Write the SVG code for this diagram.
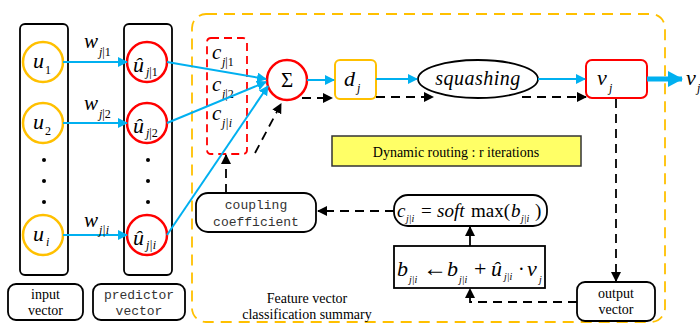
<svg xmlns="http://www.w3.org/2000/svg" width="700" height="324" viewBox="0 0 700 324">
  <defs>
    <style>
      .m { font-family: "Liberation Serif", "DejaVu Serif", serif; font-style: italic; fill: #000; }
      .s { font-family: "Liberation Serif", "DejaVu Serif", serif; font-style: italic; font-size: 12px; fill: #000; }
      .r { font-family: "Liberation Serif", "DejaVu Serif", serif; fill: #000; }
      .mono { font-family: "Liberation Mono", "DejaVu Sans Mono", monospace; font-size: 13px; fill: #333; }
      .blue { stroke: #00b0f0; stroke-width: 2; fill: none; }
      .dash { stroke: #000; stroke-width: 1.8; fill: none; stroke-dasharray: 9 6; }
      .box { fill: #fff; stroke: #000; stroke-width: 1.8; }
    </style>
    <marker id="ab" markerWidth="10" markerHeight="10" refX="9" refY="5" orient="auto" markerUnits="userSpaceOnUse">
      <path d="M0,0 L10,5 L0,10 Z" fill="#00b0f0"/>
    </marker>
    <marker id="abBig" markerWidth="16" markerHeight="16" refX="14" refY="8" orient="auto" markerUnits="userSpaceOnUse">
      <path d="M0,0 L15,8 L0,16 Z" fill="#00b0f0"/>
    </marker>
    <marker id="ak" markerWidth="10" markerHeight="10" refX="9" refY="5" orient="auto" markerUnits="userSpaceOnUse">
      <path d="M0,0 L10,5 L0,10 Z" fill="#000"/>
    </marker>
  </defs>

  <rect width="700" height="324" fill="#fff"/>

  <!-- outer dashed region -->
  <g id="region">
    <rect x="192" y="14" width="473" height="308" rx="14" fill="none" stroke="#ffc000" stroke-width="1.8" stroke-dasharray="11 7"/>
    <text class="r" x="307" y="303" font-size="14" text-anchor="middle">Feature vector</text>
    <text class="r" x="307" y="319" font-size="14" text-anchor="middle">classification summary</text>
  </g>

  <!-- input column -->
  <g id="input-column">
    <rect x="20" y="24" width="48" height="251" rx="5" fill="none" stroke="#000" stroke-width="1.8"/>
    <circle cx="43" cy="62" r="20" fill="#fff" stroke="#ffc000" stroke-width="2.5"/>
    <text class="m" x="33" y="68" font-size="22">u<tspan class="r" x="45" y="74" font-size="12" font-style="normal">1</tspan></text>
    <circle cx="43" cy="123" r="20" fill="#fff" stroke="#ffc000" stroke-width="2.5"/>
    <text class="m" x="33" y="129" font-size="22">u<tspan class="r" x="45" y="135" font-size="12" font-style="normal">2</tspan></text>
    <circle cx="44" cy="160" r="2" fill="#000"/>
    <circle cx="44" cy="181" r="2" fill="#000"/>
    <circle cx="44" cy="202" r="2" fill="#000"/>
    <circle cx="43" cy="235" r="20" fill="#fff" stroke="#ffc000" stroke-width="2.5"/>
    <text class="m" x="33" y="241" font-size="22">u<tspan x="46" y="246" font-size="12">i</tspan></text>
  </g>

  <!-- predictor column -->
  <g id="predictor-column">
    <rect x="124" y="24" width="48" height="251" rx="5" fill="none" stroke="#000" stroke-width="1.8"/>
    <circle cx="147" cy="62" r="20" fill="#fff" stroke="#f00" stroke-width="2.5"/>
    <text class="m" x="133" y="72" font-size="22">û<tspan x="146" y="76" font-size="12">j</tspan><tspan y="76" font-size="12" font-style="normal">|1</tspan></text>
    <circle cx="147" cy="123" r="20" fill="#fff" stroke="#f00" stroke-width="2.5"/>
    <text class="m" x="133" y="133" font-size="22">û<tspan x="146" y="137" font-size="12">j</tspan><tspan y="137" font-size="12" font-style="normal">|2</tspan></text>
    <circle cx="148" cy="160" r="2" fill="#000"/>
    <circle cx="148" cy="181" r="2" fill="#000"/>
    <circle cx="148" cy="202" r="2" fill="#000"/>
    <circle cx="147" cy="235" r="20" fill="#fff" stroke="#f00" stroke-width="2.5"/>
    <text class="m" x="133" y="245" font-size="22">û<tspan x="146" y="249" font-size="12">j|i</tspan></text>
  </g>

  <g id="input-label">
    <rect class="box" x="8" y="284" width="75" height="36" rx="8"/>
    <text class="r" x="45.5" y="299" font-size="14" text-anchor="middle">input</text>
    <text class="r" x="45.5" y="315" font-size="14" text-anchor="middle">vector</text>
  </g>
  <g id="predictor-label">
    <rect class="box" x="93" y="284" width="92" height="36" rx="8"/>
    <text class="mono" x="139" y="299" text-anchor="middle" fill="#666">predictor</text>
    <text class="mono" x="139" y="315" text-anchor="middle" fill="#666">vector</text>
  </g>

  <!-- coupling coefficients -->
  <g id="coefficients">
    <rect x="207" y="38" width="40" height="116" rx="4" fill="none" stroke="#f00" stroke-width="1.8" stroke-dasharray="8 5"/>
    <text class="m" x="212" y="59" font-size="21">c<tspan x="222" y="66" font-size="12">j</tspan><tspan y="66" font-size="12" font-style="normal">|1</tspan></text>
    <text class="m" x="212" y="91" font-size="21">c<tspan x="222" y="98" font-size="12">j</tspan><tspan y="98" font-size="12" font-style="normal">|2</tspan></text>
    <text class="m" x="212" y="120" font-size="21">c<tspan x="222" y="127" font-size="12">j|i</tspan></text>
  </g>

  <g id="sum">
    <circle cx="287" cy="80" r="20" fill="#fff" stroke="#f00" stroke-width="2.5"/>
    <text class="r" x="287" y="87" font-size="21" text-anchor="middle">Σ</text>
  </g>

  <g id="dj">
    <rect x="335" y="60" width="41" height="39" rx="5" fill="#fff" stroke="#ffc000" stroke-width="2"/>
    <text class="m" x="344" y="86" font-size="22">d<tspan x="357" y="92" font-size="12">j</tspan></text>
  </g>

  <g id="squashing">
    <ellipse cx="478" cy="79" rx="60" ry="19" fill="#fff" stroke="#000" stroke-width="1.8"/>
    <text class="m" x="478" y="85" font-size="20" text-anchor="middle" letter-spacing="0.5">squashing</text>
  </g>

  <g id="vj">
    <rect x="586" y="60" width="61" height="38" rx="6" fill="#fff" stroke="#f00" stroke-width="2"/>
    <text class="m" x="597" y="85" font-size="22">v<tspan x="609" y="92" font-size="12">j</tspan></text>
  </g>

  <g id="vj-out">
    <text class="m" x="686" y="85" font-size="22">v<tspan x="697" y="92" font-size="12">j</tspan></text>
  </g>

  <g id="routing">
    <rect x="332" y="136" width="249" height="30" fill="#ffff66" stroke="#333" stroke-width="1.5"/>
    <text class="r" x="456" y="157" font-size="14" text-anchor="middle">Dynamic routing : r iterations</text>
  </g>

  <g id="coupling">
    <rect class="box" x="196" y="193" width="120" height="39" rx="12"/>
    <text class="mono" x="256" y="209" text-anchor="middle">coupling</text>
    <text class="mono" x="256" y="226" text-anchor="middle">coefficient</text>
  </g>

  <g id="softmax">
    <rect class="box" x="394" y="195" width="153" height="31" rx="14"/>
    <text class="m" font-size="19"><tspan x="397" y="217">c</tspan><tspan x="406" y="222" font-size="10">j|i</tspan><tspan x="421" y="217" font-style="normal">=</tspan><tspan x="437" y="217">soft</tspan><tspan x="471" y="217" font-style="normal">max(</tspan><tspan x="511" y="217">b</tspan><tspan x="521" y="222" font-size="10">j|i</tspan><tspan x="535" y="217" font-style="normal">)</tspan></text>
  </g>

  <g id="update">
    <rect class="box" x="394" y="246" width="151" height="42"/>
    <text class="m" font-size="22"><tspan x="397" y="276">b</tspan><tspan x="409" y="283" font-size="10">j|i</tspan><tspan x="423" y="276" font-size="24" font-style="normal">←</tspan><tspan x="447" y="276">b</tspan><tspan x="459" y="283" font-size="10">j|i</tspan><tspan x="474" y="276" font-style="normal">+</tspan><tspan x="491" y="276">û</tspan><tspan x="504" y="280" font-size="10">j|i</tspan><tspan x="518" y="276" font-size="20" font-style="normal">·</tspan><tspan x="527" y="276">v</tspan><tspan x="539" y="283" font-size="10">j</tspan></text>
  </g>

  <g id="output-label">
    <rect class="box" x="577" y="282" width="78" height="39" rx="8"/>
    <text class="r" x="616" y="298" font-size="14" text-anchor="middle">output</text>
    <text class="r" x="616" y="314" font-size="14" text-anchor="middle">vector</text>
  </g>

  <!-- connectors -->
  <g id="connectors">
    <line class="blue" x1="63" y1="62" x2="127" y2="62" marker-end="url(#ab)"/>
    <line class="blue" x1="63" y1="123" x2="127" y2="123" marker-end="url(#ab)"/>
    <line class="blue" x1="63" y1="235" x2="127" y2="235" marker-end="url(#ab)"/>
    <text class="m" x="84" y="48" font-size="21">w<tspan x="99" y="56" font-size="12">j</tspan><tspan y="56" font-size="12" font-style="normal">|1</tspan></text>
    <text class="m" x="84" y="110" font-size="21">w<tspan x="99" y="118" font-size="12">j</tspan><tspan y="118" font-size="12" font-style="normal">|2</tspan></text>
    <text class="m" x="84" y="227" font-size="21">w<tspan x="99" y="234" font-size="12">j|i</tspan></text>

    <line class="blue" x1="167" y1="62" x2="266" y2="79" marker-end="url(#ab)"/>
    <line class="blue" x1="167" y1="123" x2="266" y2="82" marker-end="url(#ab)"/>
    <line class="blue" x1="167" y1="235" x2="268" y2="86" marker-end="url(#ab)"/>

    <line class="blue" x1="307" y1="80" x2="334" y2="80" marker-end="url(#ab)"/>
    <line class="blue" x1="376" y1="79" x2="417" y2="79" marker-end="url(#ab)"/>
    <line class="blue" x1="538" y1="79" x2="585" y2="79" marker-end="url(#ab)"/>
    <line x1="647" y1="79" x2="682" y2="79" stroke="#00b0f0" stroke-width="5" marker-end="url(#abBig)"/>

    <line class="dash" x1="302" y1="98" x2="332" y2="98" marker-end="url(#ak)"/>
    <line class="dash" x1="376" y1="97" x2="433" y2="97" marker-end="url(#ak)"/>
    <line class="dash" x1="522" y1="97" x2="586" y2="97" marker-end="url(#ak)"/>
    <line class="dash" x1="616" y1="99" x2="616" y2="281" marker-end="url(#ak)"/>
    <polyline class="dash" points="577,302 470,302 470,289" marker-end="url(#ak)"/>
    <line x1="470" y1="246" x2="470" y2="227" stroke="#000" stroke-width="1.8" marker-end="url(#ak)"/>
    <line class="dash" x1="394" y1="211" x2="318" y2="211" marker-end="url(#ak)"/>
    <line class="dash" x1="226" y1="193" x2="226" y2="155" marker-end="url(#ak)"/>
    <line class="dash" x1="255" y1="153" x2="281" y2="104" marker-end="url(#ak)"/>
  </g>
</svg>
